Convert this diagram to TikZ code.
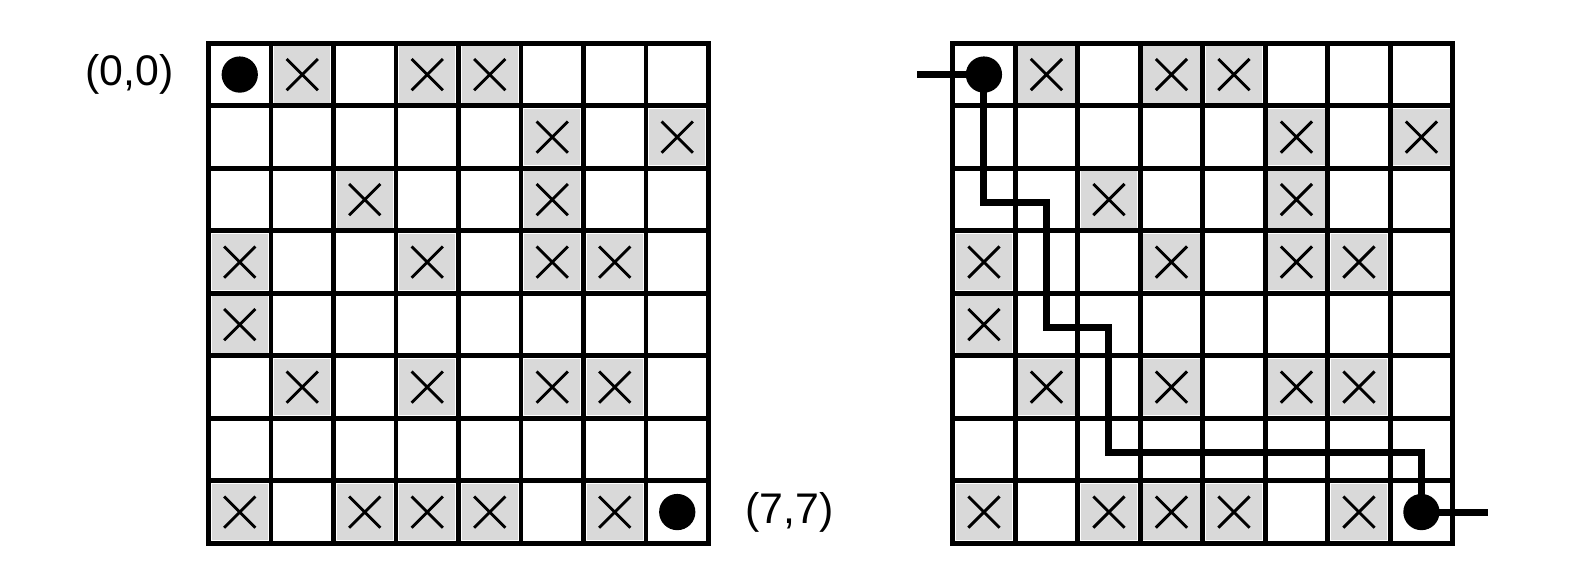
\documentclass[tikz,border=0pt]{standalone}
\usepackage{fontspec}
\setmainfont{Liberation Sans}
\usetikzlibrary{calc}
\definecolor{cellgray}{HTML}{D9D9D9}

\begin{document}
\begin{tikzpicture}[
  font=\fontsize{19.5}{24}\selectfont,
  board/.style={line width=2.2pt,draw=black},
  blocked/.style={fill=cellgray},
  cross/.style={line width=1.3pt},
  dot/.style={circle,fill=black,inner sep=0pt,minimum size=5.8mm},
  route/.style={line width=3.2pt}
]
\useasboundingbox (-3.336,-0.699) rectangle (21.896,8.693);

% two copies of the maze, the right one with the found route
\foreach \ox/\nm in {0/L,11.907/R}{
  \begin{scope}[xshift=\ox cm]
    \foreach \c/\r in {1/0,3/0,4/0, 5/1,7/1, 2/2,5/2, 0/3,3/3,5/3,6/3,
                       0/4, 1/5,3/5,5/5,6/5, 0/7,2/7,3/7,4/7,6/7}{
      \fill[blocked] (\c+0.05,7.05-\r) rectangle (\c+0.95,7.95-\r);
      \draw[cross] (\c+0.25,7.25-\r) -- (\c+0.75,7.75-\r)
                   (\c+0.25,7.75-\r) -- (\c+0.75,7.25-\r);
    }
    \draw[board] (0,0) grid (8,8) (0,0) rectangle (8,8);
    \node[dot] (\nm-start) at (0.5,7.5) {};
    \node[dot] (\nm-goal) at (7.5,0.5) {};
  \end{scope}
}

\node (origin) at (-1.26,7.5) {(0,0)};
\node (target) at (9.30,0.5) {(7,7)};

\coordinate (entry) at ($(R-start)+(-1.07,0)$);
\coordinate (exit) at ($(R-goal)+(1.07,0)$);
\draw[route] (entry) -- (R-start.center) -- ++(0,-2.05) -- ++(1,0) -- ++(0,-2)
  -- ++(1,0) -- ++(0,-2) -- ++(5,0) -- (R-goal.center) -- (exit);
\end{tikzpicture}
\end{document}
